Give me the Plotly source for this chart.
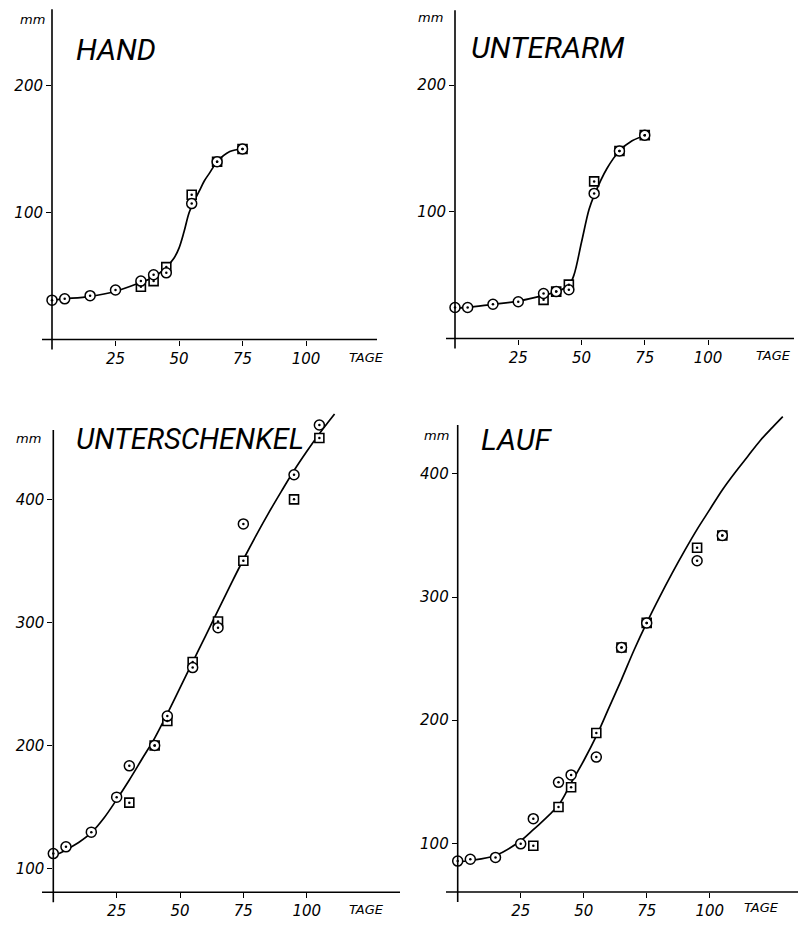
import plotly.graph_objects as go

W, H = 800, 937

# ---------------- data ----------------
# HAND
hand_circ_x = [0, 5, 15, 25, 35, 40, 45, 55, 65, 75]
hand_circ_y = [31, 32, 34.5, 39, 46, 51, 52.5, 107, 140, 150]
hand_sq_x = [35, 40, 45, 55, 65, 75]
hand_sq_y = [41.5, 46, 57, 114, 140, 150]
hand_curve_x = [0, 5, 15, 25, 35, 40, 45, 48, 50, 52, 54, 56, 58, 60, 62, 65, 70, 75]
hand_curve_y = [31, 32, 34, 38, 45, 49, 57, 64, 72, 85, 100, 109, 117, 125, 131, 140, 148, 150]

# UNTERARM
arm_circ_x = [0, 5, 15, 25, 35, 40, 45, 55, 65, 75]
arm_circ_y = [24.5, 24.5, 27, 29, 35.5, 37, 38.5, 114.5, 148, 160.5]
arm_sq_x = [35, 40, 45, 55, 65, 75]
arm_sq_y = [30.5, 37, 42.5, 124, 148, 160.5]
arm_curve_x = [0, 5, 15, 25, 35, 40, 45, 47, 50, 53, 55, 60, 65, 70, 75]
arm_curve_y = [24, 24.5, 27, 29.5, 34, 37, 42, 50, 76, 102, 113, 134, 148, 156, 160]

# UNTERSCHENKEL
leg_circ_x = [0, 5, 15, 25, 30, 40, 45, 55, 65, 75, 95, 105]
leg_circ_y = [112, 117.5, 129.5, 158, 183.5, 200, 224, 263.5, 296, 380.5, 420.5, 461]
leg_sq_x = [30, 40, 45, 55, 65, 75, 95, 105]
leg_sq_y = [153.5, 200, 220, 268, 301, 350.5, 400.5, 450.5]
leg_curve_x = [0, 5, 10, 15, 20, 25, 30, 35, 40, 45, 50, 55, 60, 65, 70, 75, 80, 85, 90, 95, 100, 105, 111]
leg_curve_y = [110, 115, 121, 129, 141, 156, 172, 189, 206, 226, 247, 268, 289, 310, 331, 351.5, 371, 389.5, 407, 424, 439.5, 454, 470]

# LAUF
lauf_circ_x = [0, 5, 15, 25, 30, 40, 45, 55, 65, 75, 95, 105]
lauf_circ_y = [85.5, 87, 88.5, 99.5, 120, 149.5, 155.5, 170, 259, 279, 329.5, 350]
lauf_sq_x = [30, 40, 45, 55, 65, 75, 95, 105]
lauf_sq_y = [98, 129.5, 145.5, 189.5, 259, 279, 340, 350]
lauf_curve_x = [0, 5, 15, 25, 30, 40, 45, 50, 55, 60, 65, 70, 75, 80, 85, 90, 95, 100, 105, 110, 115, 120, 125, 129]
lauf_curve_y = [85, 86, 90, 102, 111, 131, 149, 167, 187, 210, 233, 257, 279, 299.5, 319, 337.5, 355, 371, 387, 401, 414, 427, 438, 446.5]

titles = ["HAND", "UNTERARM", "UNTERSCHENKEL", "LAUF"]
x_ticks = [25, 50, 75, 100]
y_ticks_top = [100, 200]
y_ticks_bottom = [100, 200, 300, 400]
unit_label = "mm"
x_label = "TAGE"

# ---------------- layout geometry (pixels) ----------------
panels = [
    dict(ox=52, oy=339.5, sx=2.54, sy=1.27, y0=0, xmax=128, ymax=262, ytop=260, xleft=42, xright=377,
         title_xy=(74, 50), mm_xy=(32, 20), tage_xy=(347, 357), yt=y_ticks_top,
         cx=hand_circ_x, cy=hand_circ_y, qx=hand_sq_x, qy=hand_sq_y, lx=hand_curve_x, ly=hand_curve_y),
    dict(ox=455, oy=338.5, sx=2.53, sy=1.267, y0=0, xmax=134, ymax=262, ytop=259, xleft=446, xright=794,
         title_xy=(469, 47), mm_xy=(431, 18), tage_xy=(754, 356), yt=y_ticks_top,
         cx=arm_circ_x, cy=arm_circ_y, qx=arm_sq_x, qy=arm_sq_y, lx=arm_curve_x, ly=arm_curve_y),
    dict(ox=53.3, oy=892.3, sx=2.534, sy=1.228, y0=80.5, xmax=136.8, ymax=472, ytop=457, xleft=42, xright=400,
         title_xy=(74, 439), mm_xy=(29, 438), tage_xy=(347, 909), yt=y_ticks_bottom,
         cx=leg_circ_x, cy=leg_circ_y, qx=leg_sq_x, qy=leg_sq_y, lx=leg_curve_x, ly=leg_curve_y),
    dict(ox=457.7, oy=892, sx=2.52, sy=1.231, y0=60.4, xmax=135, ymax=449, ytop=439.8, xleft=446, xright=798,
         title_xy=(479, 440), mm_xy=(436, 435), tage_xy=(742, 907), yt=y_ticks_bottom,
         cx=lauf_circ_x, cy=lauf_circ_y, qx=lauf_sq_x, qy=lauf_sq_y, lx=lauf_curve_x, ly=lauf_curve_y),
]

TITLE_FONT = "Roboto, DejaVu Sans, sans-serif"
TICK_FONT = "DejaVu Sans, sans-serif"


def px_x(p):
    return p / W


def px_y(p):
    return 1 - p / H


fig = go.Figure()
layout = dict(width=W, height=H, margin=dict(l=0, r=0, t=0, b=0),
              paper_bgcolor="white", plot_bgcolor="white", showlegend=False)
shapes = []
annotations = []

for i, p in enumerate(panels):
    n = "" if i == 0 else str(i + 1)
    xa, ya = "x" + n, "y" + n
    x_dom = [px_x(p["ox"]), px_x(p["ox"] + p["sx"] * p["xmax"])]
    y_dom = [px_y(p["oy"]), px_y(p["oy"] - p["sy"] * (p["ymax"] - p["y0"]))]
    tickfont = dict(family=TICK_FONT, size=15, color="black", style="italic")
    layout["xaxis" + n] = dict(domain=x_dom, range=[0, p["xmax"]], anchor=ya,
                               showgrid=False, zeroline=False, showline=False,
                               tickvals=x_ticks, ticks="outside", ticklen=5, tickwidth=1.2,
                               tickcolor="black", tickfont=tickfont)
    layout["yaxis" + n] = dict(domain=y_dom, range=[p["y0"], p["ymax"]], anchor=xa,
                               showgrid=False, zeroline=False, showline=False,
                               tickvals=p["yt"], ticks="outside", ticklen=5, tickwidth=1.2,
                               tickcolor="black", tickfont=tickfont)
    # axis lines (crossing slightly at origin, like the original drawing)
    shapes.append(dict(type="line", xref="paper", yref="paper",
                       x0=px_x(p["xleft"]), x1=px_x(p["xright"]),
                       y0=px_y(p["oy"]), y1=px_y(p["oy"]),
                       line=dict(color="black", width=1.6)))
    shapes.append(dict(type="line", xref="paper", yref="paper",
                       x0=px_x(p["ox"]), x1=px_x(p["ox"]),
                       y0=px_y(p["oy"] + 10), y1=px_y(p["oy"] - p["sy"] * (p["ytop"] - p["y0"])),
                       line=dict(color="black", width=1.6)))

    # curve
    fig.add_trace(go.Scatter(x=p["lx"], y=p["ly"], mode="lines", xaxis=xa, yaxis=ya,
                             line=dict(color="black", width=1.7, shape="spline", smoothing=1.0),
                             hoverinfo="skip"))
    # squares
    fig.add_trace(go.Scatter(x=p["qx"], y=p["qy"], mode="markers", xaxis=xa, yaxis=ya,
                             cliponaxis=False,
                             marker=dict(symbol="square", size=9, color="white",
                                         line=dict(color="black", width=1.6))))
    # circles
    fig.add_trace(go.Scatter(x=p["cx"], y=p["cy"], mode="markers", xaxis=xa, yaxis=ya,
                             cliponaxis=False,
                             marker=dict(symbol="circle", size=10, color="white",
                                         line=dict(color="black", width=1.5))))
    # centre dots
    fig.add_trace(go.Scatter(x=p["qx"] + p["cx"], y=p["qy"] + p["cy"], mode="markers",
                             xaxis=xa, yaxis=ya, cliponaxis=False,
                             marker=dict(symbol="circle", size=2.5, color="black")))

    tx, ty = p["title_xy"]
    annotations.append(dict(text=titles[i], xref="paper", yref="paper",
                            x=px_x(tx), y=px_y(ty), xanchor="left", yanchor="middle",
                            showarrow=False,
                            font=dict(family=TITLE_FONT, size=30 if i != 2 else 29,
                                      color="black", style="italic")))
    mx, my = p["mm_xy"]
    annotations.append(dict(text=unit_label, xref="paper", yref="paper",
                            x=px_x(mx), y=px_y(my), xanchor="center", yanchor="middle",
                            showarrow=False,
                            font=dict(family=TICK_FONT, size=13, color="black", style="italic")))
    gx, gy = p["tage_xy"]
    annotations.append(dict(text=x_label, xref="paper", yref="paper",
                            x=px_x(gx), y=px_y(gy), xanchor="left", yanchor="middle",
                            showarrow=False,
                            font=dict(family=TICK_FONT, size=13, color="black", style="italic")))

layout["shapes"] = shapes
layout["annotations"] = annotations
fig.update_layout(**layout)
fig.write_html("out.html", config={"displayModeBar": False},
               post_script="document.body.style.margin='0';document.body.style.overflow='hidden';")
